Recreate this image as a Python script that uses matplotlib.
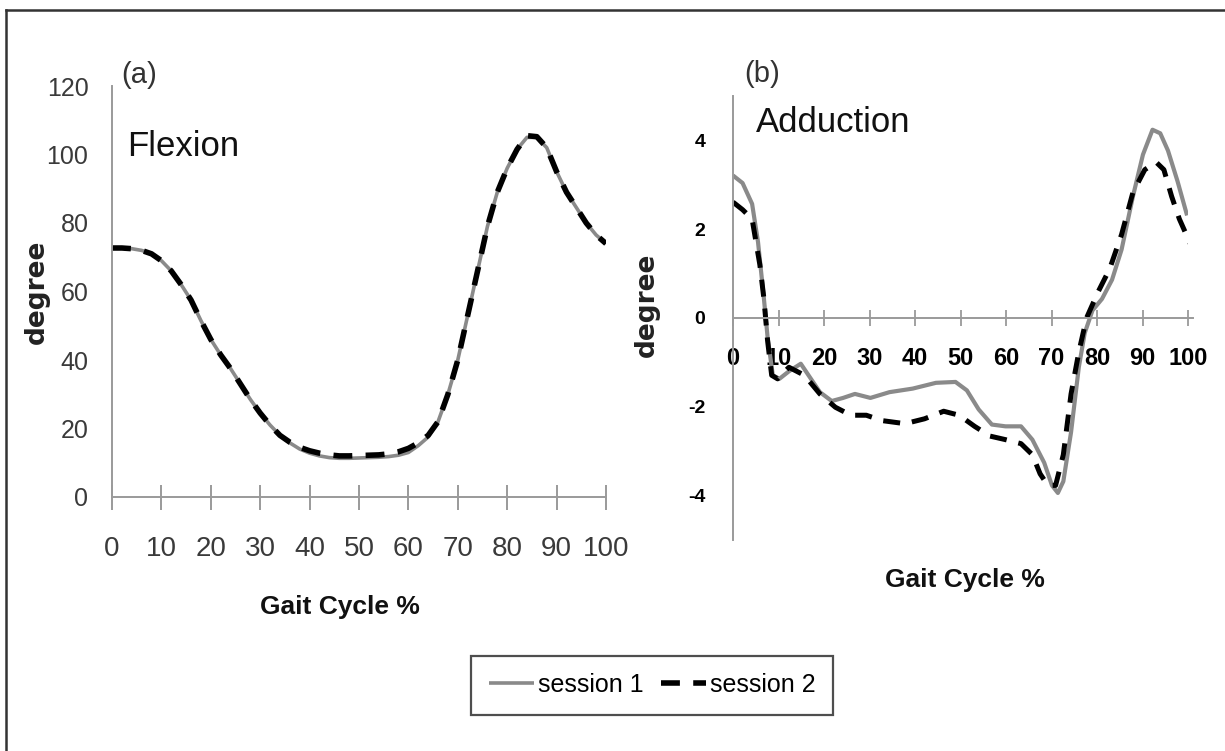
import matplotlib
matplotlib.use("Agg")
import matplotlib.pyplot as plt
from matplotlib.lines import Line2D

plt.rcParams["axes.unicode_minus"] = False

# ---------------- data ----------------
flex_x = [0, 2, 4, 6, 8, 10, 12, 14, 16, 18, 20, 22, 24, 26, 28, 30, 32, 34, 36, 38,
          40, 42, 44, 46, 48, 50, 52, 54, 56, 58, 60, 62, 64, 66, 68, 70, 72, 74, 76,
          78, 80, 82, 84, 86, 88, 90, 92, 94, 96, 98, 100]
flex_s1 = [72.7, 72.7, 72.5, 72.0, 71.0, 69.0, 66.0, 62.0, 57.5, 51.5, 46.0, 41.5, 37.5,
           33.0, 28.5, 24.5, 21.0, 18.0, 15.8, 14.0, 12.8, 12.0, 11.5, 11.3, 11.3, 11.4,
           11.5, 11.6, 11.8, 12.2, 13.0, 15.0, 17.5, 22.0, 30.0, 40.0, 53.0, 66.0, 79.0,
           89.0, 96.0, 101.5, 105.0, 105.0, 102.0, 95.0, 89.0, 84.5, 80.0, 76.5, 74.0]
flex_s2 = [72.7, 72.7, 72.5, 72.0, 71.0, 69.0, 66.0, 62.0, 57.5, 51.5, 46.0, 41.5, 37.5,
           33.0, 28.5, 24.5, 21.0, 18.0, 16.0, 14.5, 13.5, 12.8, 12.3, 12.0, 12.0, 12.1,
           12.2, 12.3, 12.6, 13.2, 14.2, 15.8, 18.0, 22.0, 30.0, 40.0, 53.0, 66.0, 79.0,
           89.0, 96.0, 101.5, 105.5, 105.2, 102.0, 95.0, 89.0, 84.5, 80.0, 76.5, 74.0]

add_x1 = [0, 2.1, 4.2, 5.5, 6.8, 7.6, 8.75, 10.2, 12.3, 14.9, 16.6, 19.1, 21.7, 24.2,
          26.8, 30.2, 34.4, 39.5, 44.6, 48.9, 51.4, 54.0, 56.9, 59.9, 63.3, 65.8, 68.4,
          70.1, 71.4, 72.6, 74.3, 76.0, 77.3, 79.0, 81.1, 83.3, 85.4, 87.9, 90.1, 92.2,
          93.9, 95.6, 97.7, 99.8]
add_s1 = [3.21, 3.04, 2.57, 1.71, 0.43, -0.43, -1.29, -1.37, -1.20, -1.03, -1.29, -1.67,
          -1.87, -1.80, -1.71, -1.80, -1.67, -1.59, -1.46, -1.44, -1.63, -2.06, -2.40,
          -2.44, -2.44, -2.74, -3.26, -3.77, -3.94, -3.68, -2.57, -1.11, -0.34, 0.17,
          0.43, 0.86, 1.54, 2.74, 3.68, 4.24, 4.16, 3.77, 3.08, 2.31]

add_x2 = [0, 2.1, 4.2, 5.9, 6.8, 7.6, 8.5, 9.8, 12.3, 15.7, 19.1, 22.5, 25.9, 29.3, 32.7,
          37.8, 42.1, 46.3, 49.7, 53.1, 56.5, 59.9, 63.3, 65.8, 67.5, 69.2, 70.9, 72.6,
          74.3, 76.0, 77.7, 80.3, 82.8, 85.4, 87.9, 90.5, 93.0, 94.7, 96.4, 98.1, 100.7]
add_s2 = [2.61, 2.44, 2.23, 1.20, 0.43, -0.51, -1.29, -1.37, -1.11, -1.29, -1.71, -2.01,
          -2.19, -2.19, -2.31, -2.38, -2.27, -2.10, -2.19, -2.44, -2.66, -2.74, -2.83,
          -3.08, -3.51, -3.77, -3.77, -3.08, -1.71, -0.77, 0.0, 0.60, 1.11, 1.88, 2.83,
          3.34, 3.51, 3.34, 2.74, 2.23, 1.63]

x_ticks = [0, 10, 20, 30, 40, 50, 60, 70, 80, 90, 100]
flex_yticks = [0, 20, 40, 60, 80, 100, 120]
add_yticks = [-4, -2, 0, 2, 4]
labels = ["session 1", "session 2"]

# ---------------- style ----------------
W, H = 1225, 751
NARROW = ["Liberation Sans", "DejaVu Sans"]
ARIAL = ["Liberation Sans", "DejaVu Sans"]
WIDE = ["DejaVu Sans"]
GRAY_LINE = "#8a8a8a"
AXIS_COL = "#9a9a9a"
DASH = (3.4, 2.4)

fig = plt.figure(figsize=(W / 100, H / 100), dpi=100)
fig.patch.set_facecolor("white")


def fig_rect(x0, y0, x1, y1):
    return [x0 / W, 1 - y1 / H, (x1 - x0) / W, (y1 - y0) / H]


# ---------------- panel (a) ----------------
ax1 = fig.add_axes(fig_rect(112, 86, 606, 497))
l1, = ax1.plot(flex_x, flex_s1, color=GRAY_LINE, lw=2.6, solid_capstyle="butt")
l2, = ax1.plot(flex_x, flex_s2, color="black", lw=4.0, dashes=DASH)
ax1.set_xlim(0, 100)
ax1.set_ylim(0, 120)
ax1.set_xticks(x_ticks)
ax1.set_yticks(flex_yticks)
for s in ["top", "right"]:
    ax1.spines[s].set_visible(False)
for s in ["left", "bottom"]:
    ax1.spines[s].set_color(AXIS_COL)
    ax1.spines[s].set_linewidth(1.4)
ax1.tick_params(axis="x", direction="inout", length=18, width=1.4, color=AXIS_COL,
                pad=19, labelsize=20, labelcolor="#3a3a3a")
ax1.tick_params(axis="y", length=0, pad=17, labelsize=18, labelcolor="#3a3a3a")
for lab in ax1.get_xticklabels() + ax1.get_yticklabels():
    lab.set_family(NARROW)
ax1.set_xlabel("Gait Cycle %", fontsize=19, fontweight="bold", family=NARROW,
               color="#111111")
ax1.xaxis.set_label_coords(0.4615, -0.238)
ax1.set_ylabel("degree", fontsize=19, fontweight="bold", family=WIDE,
               color="#222222")
ax1.yaxis.set_label_coords(-0.125, 0.5)
ax1.text(0.018, 1.027, "(a)", transform=ax1.transAxes, fontsize=21, family=NARROW,
         color="#333333", va="center", ha="left")
ax1.text(0.03, 0.853, "Flexion", transform=ax1.transAxes, fontsize=25, family=ARIAL,
         color="#111111", va="center", ha="left")

# ---------------- panel (b) ----------------
ax2 = fig.add_axes(fig_rect(733, 96, 1188, 540))
ax2.plot(add_x1, add_s1, color=GRAY_LINE, lw=3.0, solid_capstyle="butt")
ax2.plot(add_x2, add_s2, color="black", lw=3.6, dashes=DASH)
ax2.set_xlim(0, 100)
ax2.set_ylim(-5, 5)
ax2.set_xticks(x_ticks)
ax2.set_yticks(add_yticks)
ax2.spines["left"].set_position(("data", 0))
ax2.spines["bottom"].set_position(("data", 0))
ax2.spines["bottom"].set_bounds(0, 101)
for s in ["top", "right"]:
    ax2.spines[s].set_visible(False)
for s in ["left", "bottom"]:
    ax2.spines[s].set_color(AXIS_COL)
    ax2.spines[s].set_linewidth(1.4)
ax2.tick_params(axis="x", direction="inout", length=12, width=1.3, color=AXIS_COL,
                pad=15, labelsize=17)
ax2.tick_params(axis="y", length=0, pad=20, labelsize=14)
for lab in ax2.get_xticklabels() + ax2.get_yticklabels():
    lab.set_family(ARIAL)
    lab.set_fontweight("bold")
ax2.set_xlabel("Gait Cycle %", fontsize=19, fontweight="bold", family=NARROW,
               color="#111111")
ax2.xaxis.set_label_coords(0.51, -0.064)
ax2.set_ylabel("degree", fontsize=19, fontweight="bold", family=WIDE,
               color="#222222")
ax2.yaxis.set_label_coords(-0.16, 0.53)
ax2.text(0.025, 1.05, "(b)", transform=ax2.transAxes, fontsize=21, family=NARROW,
         color="#333333", va="center", ha="left")
ax2.text(0.05, 0.94, "Adduction", transform=ax2.transAxes, fontsize=25, family=ARIAL,
         color="#111111", va="center", ha="left")

# ---------------- legend ----------------
leg = fig.legend([l1, l2], labels, loc="center", bbox_to_anchor=(652 / W, 1 - 685 / H),
                 ncol=2, frameon=True, fancybox=False, edgecolor="#222222",
                 prop={"family": NARROW, "size": 18}, handlelength=1.8,
                 handletextpad=0.15, columnspacing=0.7, borderpad=0.7,
                 borderaxespad=0.0)
leg.get_frame().set_linewidth(1.6)

# ---------------- outer frame (top and left edges) ----------------
fig.add_artist(Line2D([6 / W, 1.0], [1 - 10 / H, 1 - 10 / H], transform=fig.transFigure,
                      color="#333333", lw=1.8))
fig.add_artist(Line2D([6 / W, 6 / W], [0.0, 1 - 10 / H], transform=fig.transFigure,
                      color="#333333", lw=1.8))

fig.savefig("out.png", dpi=100, facecolor="white")
